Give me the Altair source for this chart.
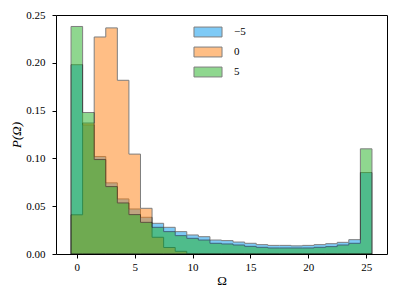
import altair as alt
import pandas as pd

omega = list(range(26))
series_labels = ["−5", "0", "5"]
neg5 = [0.198, 0.135, 0.102, 0.0744, 0.0576, 0.0471, 0.0384, 0.0321, 0.0279, 0.0234,
        0.0199, 0.0181, 0.0146, 0.0140, 0.0125, 0.0112, 0.0098, 0.0090, 0.0090, 0.0085,
        0.0090, 0.0098, 0.0108, 0.0122, 0.0150, 0.0852]
zero = [0.041, 0.137, 0.227, 0.2365, 0.1817, 0.1045, 0.0478, 0.0175, 0.0068, 0.0028,
        0, 0, 0, 0, 0, 0, 0, 0, 0, 0, 0, 0, 0, 0, 0, 0]
pos5 = [0.238, 0.148, 0.0988, 0.0705, 0.0534, 0.0412, 0.0331, 0.0279, 0.0234, 0.0192,
        0.0164, 0.0146, 0.0112, 0.0105, 0.0094, 0.0080, 0.0070, 0.0063, 0.0063, 0.0063,
        0.0063, 0.0070, 0.0077, 0.0094, 0.0112, 0.110]
colors = ["#0096ee", "#ff7f0e", "#22b022"]

rows = []
for lab, vals in zip(series_labels, [neg5, zero, pos5]):
    for o, v in zip(omega, vals):
        rows.append({"edge": o - 0.5, "p": v, "s": lab})
    rows.append({"edge": omega[-1] + 0.5, "p": vals[-1], "s": lab})
df = pd.DataFrame(rows)

FONT = "Liberation Serif"

def layer(lab, show_legend):
    legend = None
    if show_legend:
        legend = alt.Legend(
            title=None, orient="none", legendX=146, legendY=11, padding=0,
            symbolType="M-2.55,-0.9H2.55V0.9H-2.55Z", symbolSize=121,
            symbolOpacity=0.5, symbolStrokeColor="black", symbolStrokeWidth=1,
            labelOffset=20, rowPadding=6, labelFont=FONT, labelFontSize=11,
            labelColor="black")
    return alt.Chart(df).transform_filter(alt.datum.s == lab).mark_area(
        interpolate="step-after", opacity=0.5, stroke="black", strokeWidth=1
    ).encode(
        x=alt.X("edge:Q", scale=alt.Scale(domain=[-1.8, 26.8], nice=False, zero=False),
                axis=alt.Axis(title="Ω", values=[0, 5, 10, 15, 20, 25], grid=False)),
        y=alt.Y("p:Q", stack=None, scale=alt.Scale(domain=[0, 0.25], nice=False),
                axis=alt.Axis(title="P(Ω)", values=[0, 0.05, 0.1, 0.15, 0.2, 0.25],
                              format=".2f", grid=False, titleFontStyle="italic")),
        color=alt.Color("s:N", scale=alt.Scale(domain=series_labels, range=colors),
                        legend=legend),
    )

chart = alt.layer(layer("−5", True), layer("0", False), layer("5", False)).properties(
    width=331, height=239,
    autosize=alt.AutoSizeParams(type="none"),
    padding={"left": 48, "top": 7, "right": 4, "bottom": 35},
).configure_view(stroke="black", strokeWidth=1).configure_axis(
    domain=False, tickColor="black", tickSize=4, tickWidth=1,
    labelFont=FONT, labelFontSize=11, labelColor="black",
    titleFont=FONT, titleFontSize=13, titleColor="black", titleFontWeight="normal",
).configure_axisX(labelPadding=3, titlePadding=2).configure_axisY(
    labelPadding=7, titleX=-40, titleY=119.5, titleBaseline="middle", titleAngle=270)

chart.save("out.html", embed_options={"renderer": "svg", "actions": False})
